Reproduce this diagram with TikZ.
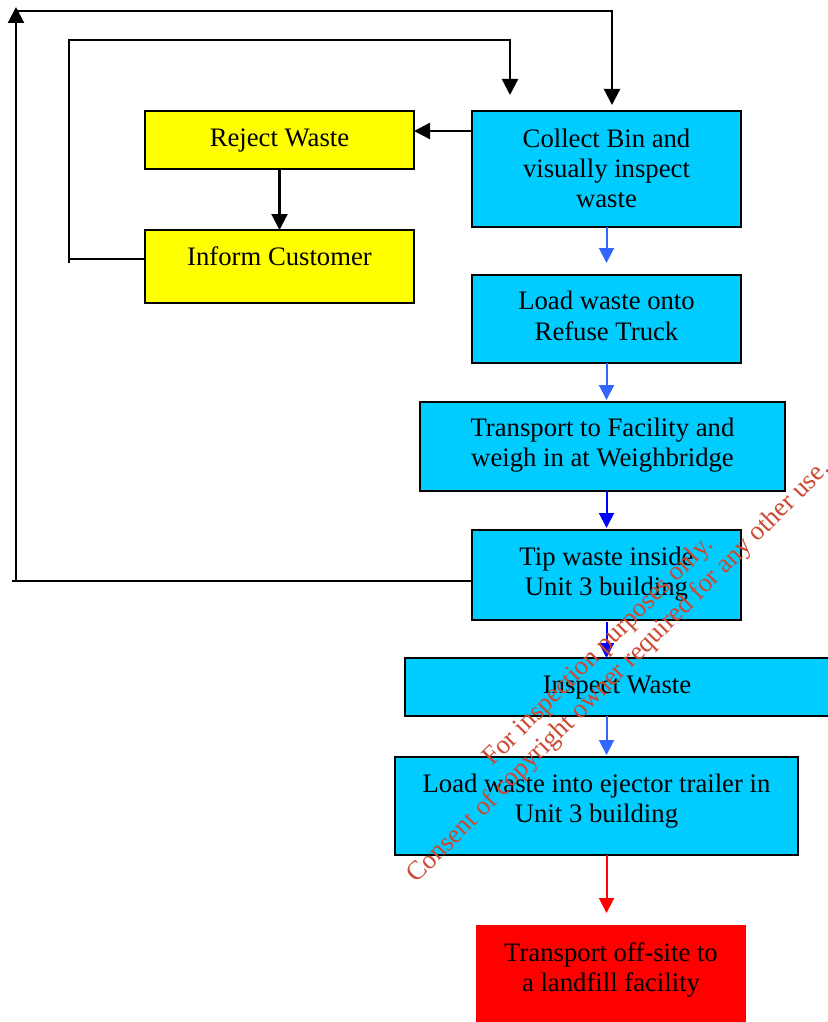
\documentclass[tikz,border=0pt]{standalone}
\usepackage{fontspec}
\setmainfont{Liberation Serif}
\usetikzlibrary{arrows.meta}
\definecolor{cyanbox}{RGB}{0,204,255}
\definecolor{yellowbox}{RGB}{255,255,0}
\definecolor{redbox}{RGB}{255,0,0}
\definecolor{lightblue}{RGB}{51,102,255}
\definecolor{darkblue}{RGB}{0,0,255}
\definecolor{wmcolor}{RGB}{204,72,50}
% #1 = position of the last baseline relative to the box centre (up is positive)
\newcommand{\boxtext}[2]{\raisebox{#1}[0pt][0pt]{\begin{tabular}[b]{@{}c@{}}#2\end{tabular}}}
\tikzset{
  box/.style={draw=black, line width=2pt, anchor=north west, inner sep=0pt, outer sep=0pt,
    font=\fontsize{26.7pt}{30.3pt}\selectfont},
  cbox/.style={box, fill=cyanbox},
  ybox/.style={box, fill=yellowbox},
  rbox/.style={box, draw=none, fill=redbox},
  blk/.style={draw=black, line width=2.2pt, -{Triangle[length=16pt,width=16pt]}},
  blkline/.style={draw=black, line width=2.2pt},
  lbarrow/.style={draw=lightblue, line width=2pt, -{Triangle[length=15pt,width=15pt]}},
  dbarrow/.style={draw=darkblue, line width=2pt, -{Triangle[length=15pt,width=15pt]}},
  rdarrow/.style={draw=redbox, line width=2pt, -{Triangle[length=15pt,width=15pt]}},
}
\begin{document}
\begin{tikzpicture}[x=1pt,y=-1pt]
\useasboundingbox (0,0) rectangle (827,1022);
\fill[white] (0,0) rectangle (827,1022);

\node[ybox, minimum width=269pt, minimum height=58pt] (reject) at (145,111) {\boxtext{-6.7pt}{Reject Waste}};
\node[ybox, minimum width=269pt, minimum height=73pt] (inform) at (145,230) {\boxtext{1.5pt}{Inform Customer}};
\node[cbox, minimum width=269pt, minimum height=116pt] (collect) at (472,111) {\boxtext{-38.7pt}{Collect Bin and\\visually inspect\\waste}};
\node[cbox, minimum width=269pt, minimum height=88pt] (truck) at (472,275) {\boxtext{-21pt}{Load waste onto\\Refuse Truck}};
\node[cbox, minimum width=365pt, minimum height=89pt] (transport) at (420,402) {\boxtext{-20.2pt}{Transport to Facility and\\weigh in at Weighbridge}};
\node[cbox, minimum width=269pt, minimum height=90pt] (tip) at (472,530) {\boxtext{-20.7pt}{Tip waste inside\\Unit 3 building}};
\node[cbox, minimum width=424pt, minimum height=58pt] (inspect) at (405,658) {\boxtext{-6.3pt}{Inspect Waste}};
\node[cbox, minimum width=403pt, minimum height=98pt] (ejector) at (395,757) {\boxtext{-16.7pt}{Load waste into ejector trailer in\\Unit 3 building}};
\node[rbox, minimum width=270pt, minimum height=97pt] (offsite) at (476,925) {\boxtext{-18.2pt}{Transport off-site to\\a landfill facility}};

% main chain
\draw[lbarrow] (collect.south) -- ([yshift=12pt]truck.north);
\draw[lbarrow] (truck.south) -- ([yshift=2pt]truck.south |- transport.north);
\draw[dbarrow] (tip.north |- transport.south) -- ([yshift=2pt]tip.north);
\draw[dbarrow] ([yshift=-2pt]tip.south) -- (tip.south |- inspect.north);
\draw[lbarrow] (tip.south |- inspect.south) -- ([yshift=2pt]tip.south |- ejector.north);
\draw[rdarrow] (tip.south |- ejector.south) -- ([yshift=12pt]tip.south |- offsite.north);

% reject branch
\draw[blk] ([yshift=-20pt]collect.north west) coordinate (c1) -- (c1 -| reject.east);
\draw[blk] (reject.south) -- (inform.north);

% inform loop
\coordinate (i1) at (69,259);
\coordinate (i0) at (69,263);
\coordinate (i2) at (69,40);
\coordinate (i3) at (510,40);
\coordinate (i4) at (510,95);
\draw[blkline] ([yshift=7.5pt]inform.west) coordinate (iw) -- (iw -| i1);
\draw[blk] (i0) -- (i2) -- (i3) -- (i4);

% tip loop
\coordinate (t1) at (12,581);
\coordinate (t2) at (16,581);
\coordinate (t3) at (16,7);
\coordinate (t4) at (16,11);
\coordinate (t5) at (612,11);
\coordinate (t6) at (612,105);
\draw[blkline] ([yshift=-6pt]tip.west) coordinate (tw) -- (tw -| t1);
\draw[blk] (t2) -- (t3);
\draw[blk] (t4) -- (t5) -- (t6);

% watermark
\node[rotate=45, text=wmcolor, align=center, inner sep=0pt,
  font=\fontsize{26.6pt}{29pt}\selectfont] (wm) at (609,662)
  {For inspection purposes only.\\Consent of copyright owner required for any other use.};
\end{tikzpicture}
\end{document}
